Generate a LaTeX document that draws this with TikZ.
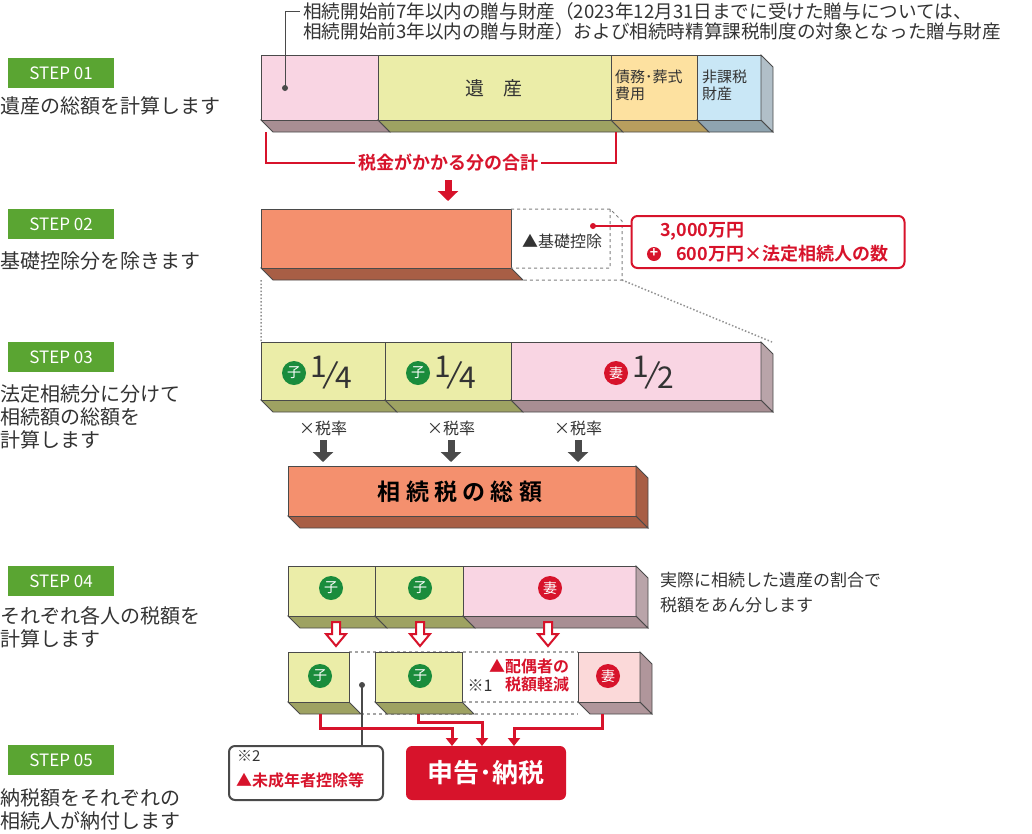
\documentclass[tikz,border=0pt]{standalone}
\usepackage{fontspec}
\setmainfont{Noto Sans CJK JP}
\newfontfamily\boldjp{Noto Sans CJK JP Bold}
\usetikzlibrary{positioning,arrows.meta}
\definecolor{pk}{HTML}{F9D5E3}\definecolor{pkb}{HTML}{A88E93}
\definecolor{yl}{HTML}{EBEDA8}\definecolor{ylb}{HTML}{9EA262}
\definecolor{og}{HTML}{FDE1A0}\definecolor{ogb}{HTML}{B89E5E}
\definecolor{bl}{HTML}{C9E7F6}\definecolor{blb}{HTML}{8FA4B0}
\definecolor{sm}{HTML}{F4906E}\definecolor{smb}{HTML}{A85E45}
\definecolor{lp}{HTML}{FBD9D9}\definecolor{lpb}{HTML}{B0969B}
\definecolor{stgreen}{HTML}{5AA532}\definecolor{cgreen}{HTML}{1A8C3C}
\definecolor{jred}{HTML}{D7132B}\definecolor{txt}{HTML}{333333}
\definecolor{edge}{HTML}{4A4A4A}
\tikzset{
  steplabel/.style={fill=stgreen,text=white,minimum width=106pt,minimum height=30pt,inner sep=0pt,font=\fontsize{17}{17}\selectfont},
  steptext/.style={anchor=north west,align=left,text=txt,inner sep=0pt,font=\fontsize{20}{23}\selectfont},
  kid/.style={circle,fill=cgreen,text=white,inner sep=0pt,minimum size=24pt,font=\fontsize{14}{14}\selectfont},
  wife/.style={kid,fill=jred},
  redline/.style={jred,line width=3pt},
  darkarrow/.style={-{Triangle[length=10pt,width=20pt]},line width=7pt,draw=#1},
}
% front face + bottom face
\newcommand{\cube}[6]{%
  \fill[#6,draw=edge,line width=.8pt] (#1,#4)--(#3,#4)--(#3+12,#4+12)--(#1+12,#4+12)--cycle;
  \fill[#5,draw=edge,line width=.8pt] (#1,#2) rectangle (#3,#4);}
% right side face
\newcommand{\side}[5]{%
  \fill[#5,draw=edge,line width=.8pt] (#1,#2)--(#1+12,#2+12)--(#1+12,#4+12)--(#1,#4)--cycle;}
\newcommand{\quarter}[1]{{\fontsize{30}{30}\selectfont\raisebox{6pt}{1}\kern-4pt\rotatebox{-10}{/}\kern-4pt\raisebox{-5pt}{#1}}}
% hollow red arrow
\newcommand{\hollow}[1]{%
  \draw[jred,line width=2pt,fill=white,line join=miter] (#1-4,622)--(#1+4,622)--(#1+4,634)--(#1+10,634)--(#1,646)--(#1-10,634)--(#1-4,634)--cycle;}
\begin{document}
\begin{tikzpicture}[x=1pt,y=-1pt]
\useasboundingbox (0,0) rectangle (1032,833);
% step labels
\foreach \n/\y in {01/73,02/224,03/357,04/581,05/760}
  \node[steplabel] (s\n) at (61,\y) {STEP \n};
\node[steptext] (t01) at (0,96) {遺産の総額を計算します};
\node[steptext] (t02) at (0,251) {基礎控除分を除きます};
\node[steptext] (t03) at (0,384) {法定相続分に分けて\\相続額の総額を\\計算します};
\node[steptext] (t04) at (0,606) {それぞれ各人の税額を\\計算します};
\node[steptext] (t05) at (0,788) {納税額をそれぞれの\\相続人が納付します};
% step 01
\node[anchor=west,align=left,text=txt,inner sep=0pt,font=\fontsize{18.6}{20}\selectfont] (gift) at (303,21)
  {相続開始前7年以内の贈与財産（2023年12月31日までに受けた贈与については、\\相続開始前3年以内の贈与財産）および相続時精算課税制度の対象となった贈与財産};
\cube{261}{55}{378}{120}{pk}{pkb}
\cube{378}{55}{611}{120}{yl}{ylb}
\cube{611}{55}{697}{120}{og}{ogb}
\cube{697}{55}{761}{120}{bl}{blb}
\side{761}{55}{761}{120}{blb!70}
\fill[edge] (285,88) circle (3pt) coordinate (giftdot);
\draw[edge,line width=1pt] (giftdot)--(285,11)--(300,11);
\node[text=txt,font=\fontsize{19}{19}\selectfont] (isan) at (494,88) {遺\quad 産};
\node[anchor=north west,align=left,text=txt,inner sep=0pt,font=\fontsize{15}{17}\selectfont] (debt) at (615,70) {債務･葬式\\費用};
\node[anchor=north west,align=left,text=txt,inner sep=0pt,font=\fontsize{15}{17}\selectfont] (hika) at (702,70) {非課税\\財産};
\draw[jred,line width=1.2pt] (266,132)--(266,163)--(616,163)--(616,132);
\node[fill=white,text=jred,font=\boldjp\fontsize{18}{18}\selectfont,inner sep=3pt] (sum) at (448,163) {税金がかかる分の合計};
\draw[darkarrow=jred] (448,180)--(448,201);
% step 02
\cube{261}{209}{511}{268}{sm}{smb}
\draw[dashed,edge!70,line width=1pt] (511,209)--(610,209)--(622,221)--(622,280)--(523,280) (610,209)--(610,268)--(511,268);
\node[text=txt,font=\fontsize{16}{16}\selectfont,inner sep=0pt] (kiso) at (562,241) {▲基礎控除};
\node[draw=jred,line width=2pt,rounded corners=6pt,minimum width=273pt,minimum height=52pt] (kisobox) at (768,242) {};
\node[anchor=west,text=jred,font=\boldjp\fontsize{18}{18}\selectfont,inner sep=0pt] (k1) at (660,231) {3,000万円};
\node[anchor=west,text=jred,font=\boldjp\fontsize{18}{18}\selectfont,inner sep=0pt] (k2) at (676,254) {600万円×法定相続人の数};
\fill[jred] (654,254) circle (7pt);
\node[text=white,font=\boldjp\fontsize{14}{14}\selectfont,inner sep=0pt] (plus) at (654,253) {+};
\fill[jred] (593,226) circle (3pt) coordinate (kdot);
\draw[jred,line width=1.2pt] (kdot)--(kisobox.west|-kdot);
\draw[dotted,edge!60,line width=1.5pt] (261,280)--(261,342) (622,280)--(772,342);
% step 03
\cube{261}{342}{385}{400}{yl}{ylb}
\cube{385}{342}{511}{400}{yl}{ylb}
\cube{511}{342}{761}{400}{pk}{pkb}
\side{761}{342}{761}{400}{pkb!80}
\node[kid] (c1) at (294,373) {子};
\node[right=4pt of c1,text=txt,inner sep=0pt] (f1) {\quarter{4}};
\node[kid] (c2) at (418,373) {子};
\node[right=4pt of c2,text=txt,inner sep=0pt] (f2) {\quarter{4}};
\node[wife] (w1) at (616,373) {妻};
\node[right=4pt of w1,text=txt,inner sep=0pt] (f3) {\quarter{2}};
\foreach \x/\nm in {323/a,451/b,578/c}{
  \node[text=txt,font=\fontsize{16}{16}\selectfont,inner sep=0pt] (r\nm) at (\x,428) {×税率};
  \draw[darkarrow=edge] (\x,440)--(\x,462);}
\cube{288}{466}{636}{516}{sm}{smb}
\side{636}{466}{636}{516}{smb}
\node[font=\boldjp\fontsize{23}{23}\selectfont,text=black] (total) at (460,492) {相 続 税 の 総 額};
% step 04
\cube{288}{566}{375}{616}{yl}{ylb}
\cube{375}{566}{463}{616}{yl}{ylb}
\cube{463}{566}{636}{616}{pk}{pkb}
\side{636}{566}{636}{616}{pkb!80}
\node[kid] (c3) at (331,588) {子};
\node[kid] (c4) at (420,588) {子};
\node[wife] (w2) at (550,588) {妻};
\node[anchor=north west,align=left,text=txt,inner sep=0pt,font=\fontsize{17}{25}\selectfont] (ratio) at (660,572) {実際に相続した遺産の割合で\\税額をあん分します};
\foreach \x in {336,420,548} \hollow{\x}
% row 5
\draw[dashed,edge!50,line width=1.2pt] (349,652)--(578,652) (361,714)--(578,714) (463,702)--(578,702);
\cube{288}{652}{349}{702}{yl}{ylb}
\cube{375}{652}{462}{702}{yl}{ylb}
\cube{578}{652}{640}{702}{lp}{lpb}
\side{640}{652}{640}{702}{lpb}
\node[kid] (c5) at (320,676) {子};
\node[kid] (c6) at (420,676) {子};
\node[wife] (w3) at (608,676) {妻};
\node[text=txt,font=\fontsize{16}{16}\selectfont,inner sep=0pt] (kome1) at (480,686) {※1};
\node[anchor=north west,align=left,text=jred,font=\boldjp\fontsize{16}{18}\selectfont,inner sep=0pt] (spouse) at (489,659) {▲配偶者の\\\phantom{▲}税額軽減};
\fill[edge] (362,685) circle (3pt) coordinate (mdot);
\node[draw=edge,line width=2pt,rounded corners=6pt,minimum width=154pt,minimum height=54pt] (minor) at (306,773) {};
\node[anchor=north west,align=left,text=txt,font=\fontsize{15}{18}\selectfont,inner sep=0pt] (m1) at (237,750) {※2};
\node[anchor=north west,text=jred,font=\boldjp\fontsize{16}{16}\selectfont,inner sep=0pt] (m2) at (236,773) {▲未成年者控除等};
\draw[edge,line width=1.2pt] (mdot)--(mdot|-minor.north);
\node[fill=jred,rounded corners=6pt,minimum width=160pt,minimum height=54pt,text=white,font=\boldjp\fontsize{26}{26}\selectfont] (pay) at (486,773) {申告･納税};
\draw[redline,-{Triangle[length=8pt,width=12pt]}] (320,714)--(320,728)--(452,728)--(452,746);
\draw[redline,-{Triangle[length=8pt,width=12pt]}] (418,714)--(418,722)--(482,722)--(482,746);
\draw[redline,-{Triangle[length=8pt,width=12pt]}] (602,714)--(602,728)--(514,728)--(514,746);
\end{tikzpicture}
\end{document}
